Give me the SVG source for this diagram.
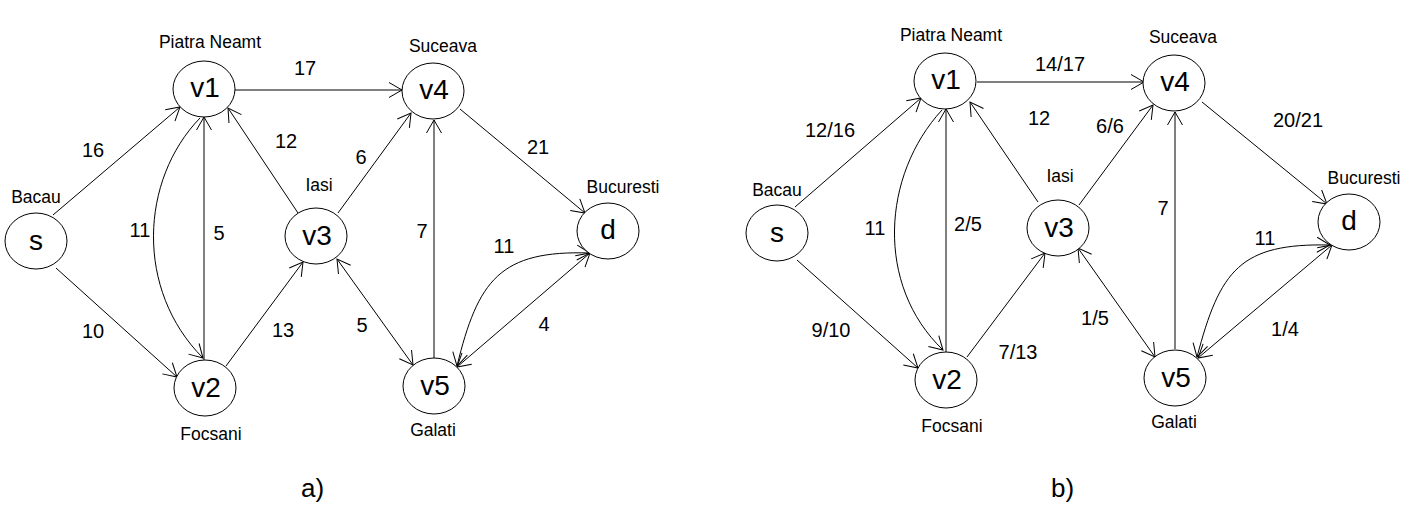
<svg xmlns="http://www.w3.org/2000/svg" width="1414" height="528" viewBox="0 0 1414 528">
<style>
.node ellipse{fill:#fff;stroke:#000;stroke-width:1}
.nl{font-family:"Liberation Sans",Arial,sans-serif;font-size:28px;text-anchor:middle;fill:#000}
.city{font-family:"Liberation Sans",Arial,sans-serif;font-size:17.5px;text-anchor:middle;fill:#000}
.el{font-family:"Liberation Sans",Arial,sans-serif;font-size:20px;text-anchor:middle;fill:#000}
.cap{font-family:"Liberation Sans",Arial,sans-serif;font-size:26px;fill:#000}
.e{fill:none;stroke:#000;stroke-width:1;marker-end:url(#ah)}
.b{marker-start:url(#ah)}
</style>
<defs>
<marker id="ah" markerUnits="userSpaceOnUse" markerWidth="16" markerHeight="18" refX="13" refY="7.5" orient="auto-start-reverse" overflow="visible">
<path d="M0,0 L13,7.5 L0,15" fill="none" stroke="#000" stroke-width="1"/>
</marker>
</defs>
<rect width="1414" height="528" fill="#fff"/>

<g id="connectors">
<!-- a) -->
<path class="e" d="M235,90 L402,90"/>
<path class="e" d="M53,215 L180,107"/>
<path class="e" d="M204,360 L204,117"/>
<path class="e" d="M200,118 C140,180 135,290 203,358"/>
<path class="e" d="M298,213 L228,108"/>
<path class="e" d="M338,213 L411,113"/>
<path class="e" d="M434,358 L434,120"/>
<path class="e" d="M460,109 L585,213"/>
<path class="e" d="M226,366 L303,262"/>
<path class="e" d="M56,268 L177,377"/>
<path class="e b" d="M337,259 L413,365"/>
<path class="e b" d="M457,367 L590,253"/>
<path class="e b" d="M457,366 C478,280 500,250 590,253"/>
<!-- b) -->
<path class="e" d="M977,82 L1144,82"/>
<path class="e" d="M795,207 L921,98"/>
<path class="e" d="M946,352 L946,109"/>
<path class="e" d="M942,110 C882,175 875,285 943,350"/>
<path class="e" d="M1038,202 L970,102"/>
<path class="e" d="M1079,205 L1153,105"/>
<path class="e" d="M1175,349 L1175,112"/>
<path class="e" d="M1202,102 L1327,204"/>
<path class="e" d="M967,357 L1045,253"/>
<path class="e" d="M797,260 L918,368"/>
<path class="e b" d="M1078,248 L1155,357"/>
<path class="e b" d="M1198,358 L1332,245"/>
<path class="e b" d="M1197,357 C1220,270 1240,243 1330,245"/>
</g>

<g id="edge-labels">
<text class="el" x="305" y="75">17</text>
<text class="el" x="93" y="157">16</text>
<text class="el" x="286" y="148">12</text>
<text class="el" x="140" y="237">11</text>
<text class="el" x="219" y="240">5</text>
<text class="el" x="361" y="164">6</text>
<text class="el" x="538" y="154">21</text>
<text class="el" x="422" y="238">7</text>
<text class="el" x="504" y="253">11</text>
<text class="el" x="93" y="338">10</text>
<text class="el" x="283" y="337">13</text>
<text class="el" x="362" y="332">5</text>
<text class="el" x="544" y="331">4</text>

<text class="el" x="1060" y="71">14/17</text>
<text class="el" x="830" y="137">12/16</text>
<text class="el" x="1039" y="125">12</text>
<text class="el" x="875" y="235">11</text>
<text class="el" x="968" y="231">2/5</text>
<text class="el" x="1110" y="133">6/6</text>
<text class="el" x="1298" y="127">20/21</text>
<text class="el" x="1163" y="215">7</text>
<text class="el" x="1265" y="245">11</text>
<text class="el" x="831" y="337">9/10</text>
<text class="el" x="1018" y="359">7/13</text>
<text class="el" x="1095" y="325">1/5</text>
<text class="el" x="1285" y="336">1/4</text>
</g>

<g id="a-s" class="node"><ellipse cx="36" cy="241" rx="31" ry="28"/><text class="nl" x="36" y="250">s</text><text class="city" x="36" y="203">Bacau</text></g>
<g id="a-v1" class="node"><ellipse cx="204" cy="89" rx="31" ry="28"/><text class="nl" x="205" y="97">v1</text><text class="city" x="210" y="48">Piatra Neamt</text></g>
<g id="a-v2" class="node"><ellipse cx="205" cy="388" rx="31" ry="28"/><text class="nl" x="206" y="397">v2</text><text class="city" x="211" y="440">Focsani</text></g>
<g id="a-v3" class="node"><ellipse cx="316" cy="236" rx="31" ry="28"/><text class="nl" x="317" y="245">v3</text><text class="city" x="319" y="191">Iasi</text></g>
<g id="a-v4" class="node"><ellipse cx="433" cy="91" rx="31" ry="28"/><text class="nl" x="434" y="99">v4</text><text class="city" x="443" y="52">Suceava</text></g>
<g id="a-d" class="node"><ellipse cx="608" cy="231" rx="31" ry="28"/><text class="nl" x="608" y="239">d</text><text class="city" x="623" y="193">Bucuresti</text></g>
<g id="a-v5" class="node"><ellipse cx="434" cy="386" rx="31" ry="28"/><text class="nl" x="435" y="395">v5</text><text class="city" x="433" y="436">Galati</text></g>

<g id="b-s" class="node"><ellipse cx="777" cy="233" rx="31" ry="28"/><text class="nl" x="777" y="242">s</text><text class="city" x="777" y="196">Bacau</text></g>
<g id="b-v1" class="node"><ellipse cx="945" cy="81" rx="31" ry="28"/><text class="nl" x="946" y="89">v1</text><text class="city" x="951" y="41">Piatra Neamt</text></g>
<g id="b-v2" class="node"><ellipse cx="946" cy="380" rx="31" ry="28"/><text class="nl" x="947" y="389">v2</text><text class="city" x="952" y="432">Focsani</text></g>
<g id="b-v3" class="node"><ellipse cx="1058" cy="228" rx="31" ry="28"/><text class="nl" x="1059" y="237">v3</text><text class="city" x="1060" y="182">Iasi</text></g>
<g id="b-v4" class="node"><ellipse cx="1174" cy="83" rx="31" ry="28"/><text class="nl" x="1175" y="91">v4</text><text class="city" x="1183" y="43">Suceava</text></g>
<g id="b-d" class="node"><ellipse cx="1349" cy="222" rx="31" ry="28"/><text class="nl" x="1349" y="230">d</text><text class="city" x="1364" y="184">Bucuresti</text></g>
<g id="b-v5" class="node"><ellipse cx="1175" cy="378" rx="31" ry="28"/><text class="nl" x="1176" y="387">v5</text><text class="city" x="1174" y="428">Galati</text></g>

<g id="captions">
<text class="cap" x="301" y="497">a)</text>
<text class="cap" x="1051" y="497">b)</text>
</g>
</svg>
